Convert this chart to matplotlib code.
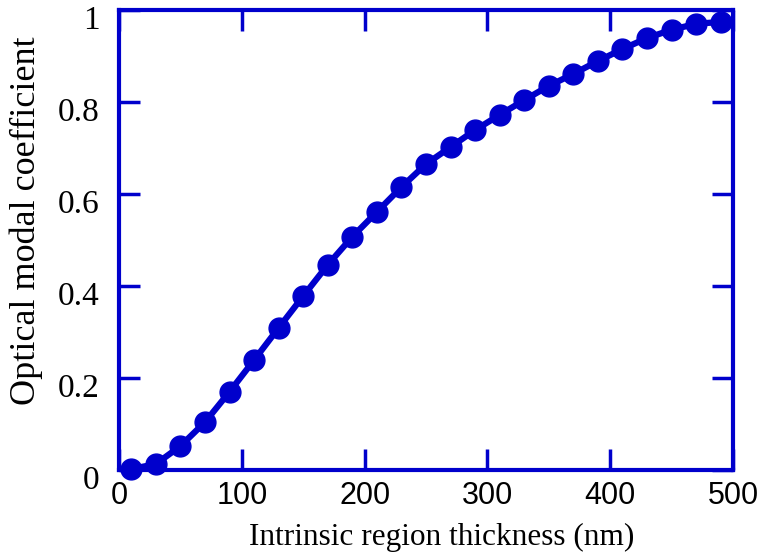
import matplotlib
matplotlib.use("Agg")
from matplotlib import pyplot as plt
from matplotlib import transforms

# Data
thickness_nm = [10, 30, 50, 70, 90, 110, 130, 150, 170, 190, 210, 230, 250,
                270, 290, 310, 330, 350, 370, 390, 410, 430, 450, 470, 490]
modal_coeff = [0.002, 0.013, 0.052, 0.104, 0.170, 0.239, 0.309, 0.378, 0.446,
               0.507, 0.561, 0.615, 0.665, 0.702, 0.739, 0.772, 0.804, 0.835,
               0.861, 0.889, 0.915, 0.939, 0.957, 0.970, 0.974]

x_ticks = [0, 100, 200, 300, 400, 500]
y_ticks = [0, 0.2, 0.4, 0.6, 0.8, 1.0]
y_tick_labels = ["0", "0.2", "0.4", "0.6", "0.8", "1"]

blue = "#0000CC"
serif = ["Liberation Serif", "DejaVu Serif"]
sans = ["Liberation Sans", "DejaVu Sans"]

fig = plt.figure(figsize=(7.59, 5.58), dpi=100)
ax = fig.add_axes([0.1568, 0.1577, 0.8089, 0.8244])

ax.plot(thickness_nm, modal_coeff, color=blue, lw=4.5, marker="o", ms=15,
        clip_on=False, zorder=3)

ax.set_xlim(0, 500)
ax.set_ylim(0, 1)

for side in ax.spines.values():
    side.set_color(blue)
    side.set_linewidth(3)

ax.set_xticks(x_ticks)
ax.set_xticklabels([str(t) for t in x_ticks], fontfamily=sans, fontsize=22)
ax.set_yticks(y_ticks)
ax.set_yticklabels(y_tick_labels, fontfamily=serif, fontsize=24)
ax.tick_params(axis="both", direction="in", color=blue, width=2.5,
               length=15, top=True, right=True)
ax.tick_params(axis="x", pad=8)
ax.tick_params(axis="y", pad=14)
ax.minorticks_off()

# y tick labels sit a little below their ticks in the reference
shift = transforms.ScaledTranslation(0, -5 / 72, fig.dpi_scale_trans)
for lbl in ax.get_yticklabels():
    lbl.set_transform(lbl.get_transform() + shift)

ax.set_xlabel("Intrinsic region thickness (nm)", fontfamily=serif,
              fontsize=22.5)
ax.xaxis.set_label_coords(0.526, -0.116)
ax.set_ylabel("Optical modal coefficient", fontfamily=serif, fontsize=26)
ax.yaxis.set_label_coords(-0.123, 0.543)

fig.savefig("out.png", dpi=100)
